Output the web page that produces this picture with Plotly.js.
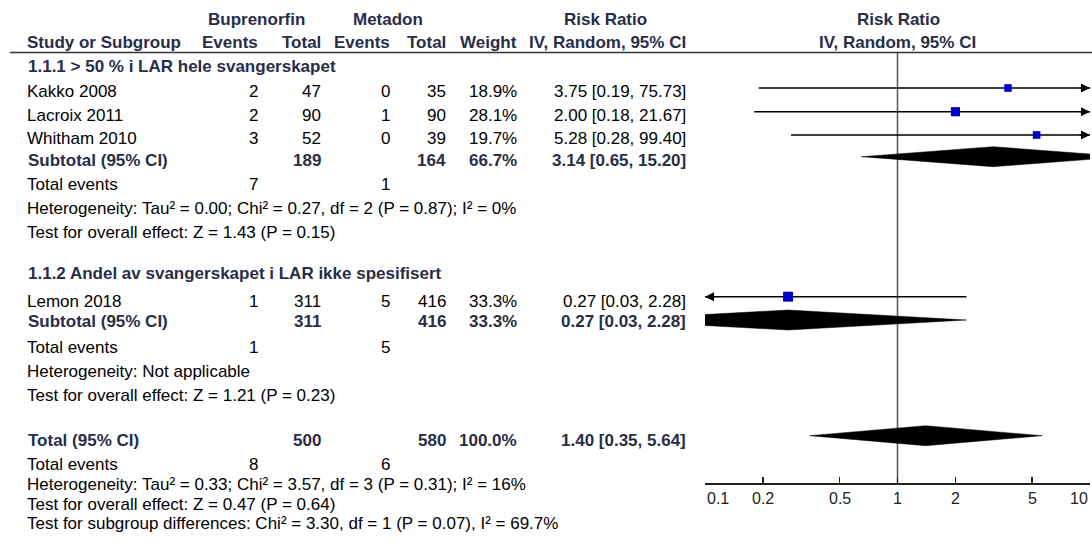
<!DOCTYPE html>
<html><head><meta charset="utf-8">
<script src="https://cdn.plot.ly/plotly-3.0.1.min.js"></script>
<style>html,body{margin:0;padding:0;background:#fff}#chart{width:1092px;height:545px}</style>
</head><body><div id="chart"></div>
<script>
// ---------------- DATA ----------------
const studies = ["Kakko 2008", "Lacroix 2011", "Whitham 2010", "Lemon 2018"];
const studyGroup = [0, 0, 0, 1];
const buprEvents = [2, 2, 3, 1];
const buprTotal = [47, 90, 52, 311];
const metEvents = [0, 1, 0, 5];
const metTotal = [35, 90, 39, 416];
const weights = [18.9, 28.1, 19.7, 33.3];
const rr = [3.75, 2.00, 5.28, 0.27];
const rrLow = [0.19, 0.18, 0.28, 0.03];
const rrHigh = [75.73, 21.67, 99.40, 2.28];

const subgroupNames = ["1.1.1 > 50 % i LAR hele svangerskapet", "1.1.2 Andel av svangerskapet i LAR ikke spesifisert"];
const subBuprTotal = [189, 311];
const subMetTotal = [164, 416];
const subWeight = [66.7, 33.3];
const subRR = [3.14, 0.27];
const subLow = [0.65, 0.03];
const subHigh = [15.20, 2.28];
const subBuprEvents = [7, 1];
const subMetEvents = [1, 5];
const subHet = ["Heterogeneity: Tau² = 0.00; Chi² = 0.27, df = 2 (P = 0.87); I² = 0%", "Heterogeneity: Not applicable"];
const subTest = ["Test for overall effect: Z = 1.43 (P = 0.15)", "Test for overall effect: Z = 1.21 (P = 0.23)"];

const totalBuprTotal = 500, totalMetTotal = 580, totalWeight = 100.0;
const totalRR = 1.40, totalLow = 0.35, totalHigh = 5.64;
const totalBuprEvents = 8, totalMetEvents = 6;
const totalHet = "Heterogeneity: Tau² = 0.33; Chi² = 3.57, df = 3 (P = 0.31); I² = 16%";
const totalTest = "Test for overall effect: Z = 0.47 (P = 0.64)";
const subgroupTest = "Test for subgroup differences: Chi² = 3.30, df = 1 (P = 0.07), I² = 69.7%";

const tickVals = [0.1, 0.2, 0.5, 1, 2, 5, 10];
const tickLabels = ["0.1", "0.2", "0.5", "1", "2", "5", "10"];

// ---------------- LAYOUT CONSTANTS ----------------
const W = 1092, H = 545;
const AX_Y = 483;            // pixel row of the x axis line
const X_MIN = 0.1, X_MAX = 10;
const PLOT_L = 705, PLOT_R = 1090;
const FONT = "Liberation Sans, Arial, sans-serif";
const FS = 17;
const HEAD_COL = "#282d48";
const TXT_COL = "#000000";
const col = {name: 25, bEv: 260, bTot: 323, mEv: 392, mTot: 448, wt: 519, ci: 688};

// text rows (pixel centers) and mark rows
const studyTextY = [90.8, 114.5, 137.5, 300.8];
const studyMarkY = [88, 111.7, 135, 296.7];
const groupHeadY = [65, 272.5];
const subTextY = [159.2, 320.8];
const subMarkY = [156.7, 320];
const subEvY = [184, 346.7];
const subHetY = [207.5, 370.2];
const subTestY = [231, 394.2];
const totY = 439.2, totMarkY = 435.7, totEvY = 463.8, totHetY = 483.2, totTestY = 503, subDiffY = 522.5;
const DIAMOND_H = 10;
const YOFF = 1.0;

const ann = [];
function txt(x, y, s, anchor, bold) {
  ann.push({
    xref: 'paper', yref: 'paper', x: x / W, y: 1 - (y + YOFF) / H,
    xanchor: anchor, yanchor: 'middle', showarrow: false,
    text: bold ? '<b>' + s + '</b>' : s,
    font: {family: FONT, size: FS, color: bold ? HEAD_COL : TXT_COL}
  });
}
const f2 = v => v.toFixed(2);
const ciText = (e, l, h) => f2(e) + ' [' + f2(l) + ', ' + f2(h) + ']';

// headers
txt(256, 18.8, 'Buprenorfin', 'center', true);
txt(388, 18.8, 'Metadon', 'center', true);
txt(605, 18.8, 'Risk Ratio', 'center', true);
txt(898, 18.8, 'Risk Ratio', 'center', true);
txt(col.name, 41.7, 'Study or Subgroup', 'left', true);
txt(col.bEv, 41.7, 'Events', 'right', true);
txt(col.bTot, 41.7, 'Total', 'right', true);
txt(col.mEv, 41.7, 'Events', 'right', true);
txt(col.mTot, 41.7, 'Total', 'right', true);
txt(col.wt, 41.7, 'Weight', 'right', true);
txt(col.ci, 41.7, 'IV, Random, 95% CI', 'right', true);
txt(897, 41.7, 'IV, Random, 95% CI', 'center', true);

// subgroups
for (let g = 0; g < subgroupNames.length; g++) {
  txt(col.name + 1, groupHeadY[g], subgroupNames[g], 'left', true);
  studies.forEach((s, i) => {
    if (studyGroup[i] !== g) return;
    const y = studyTextY[i];
    txt(col.name, y, s, 'left', false);
    txt(col.bEv, y, String(buprEvents[i]), 'right', false);
    txt(col.bTot, y, String(buprTotal[i]), 'right', false);
    txt(col.mEv, y, String(metEvents[i]), 'right', false);
    txt(col.mTot, y, String(metTotal[i]), 'right', false);
    txt(col.wt, y, weights[i].toFixed(1) + '%', 'right', false);
    txt(col.ci, y, ciText(rr[i], rrLow[i], rrHigh[i]), 'right', false);
  });
  txt(col.name + 1, subTextY[g], 'Subtotal (95% CI)', 'left', true);
  txt(col.bTot, subTextY[g], String(subBuprTotal[g]), 'right', true);
  txt(col.mTot, subTextY[g], String(subMetTotal[g]), 'right', true);
  txt(col.wt, subTextY[g], subWeight[g].toFixed(1) + '%', 'right', true);
  txt(col.ci, subTextY[g], ciText(subRR[g], subLow[g], subHigh[g]), 'right', true);
  txt(col.name, subEvY[g], 'Total events', 'left', false);
  txt(col.bEv, subEvY[g], String(subBuprEvents[g]), 'right', false);
  txt(col.mEv, subEvY[g], String(subMetEvents[g]), 'right', false);
  txt(col.name, subHetY[g], subHet[g], 'left', false);
  txt(col.name, subTestY[g], subTest[g], 'left', false);
}
// totals
txt(col.name + 1, totY, 'Total (95% CI)', 'left', true);
txt(col.bTot, totY, String(totalBuprTotal), 'right', true);
txt(col.mTot, totY, String(totalMetTotal), 'right', true);
txt(col.wt, totY, totalWeight.toFixed(1) + '%', 'right', true);
txt(col.ci, totY, ciText(totalRR, totalLow, totalHigh), 'right', true);
txt(col.name, totEvY, 'Total events', 'left', false);
txt(col.bEv, totEvY, String(totalBuprEvents), 'right', false);
txt(col.mEv, totEvY, String(totalMetEvents), 'right', false);
txt(col.name, totHetY, totalHet, 'left', false);
txt(col.name, totTestY, totalTest, 'left', false);
txt(col.name, subDiffY, subgroupTest, 'left', false);

// tick labels under axis
tickVals.forEach((v, i) => {
  ann.push({
    xref: 'x', yref: 'paper', x: Math.log10(v), y: 1 - 498.5 / H,
    xanchor: i === 0 ? 'left' : (i === tickVals.length - 1 ? 'right' : 'center'),
    yanchor: 'middle', showarrow: false, text: tickLabels[i],
    font: {family: FONT, size: 16, color: '#222'}
  });
});

// ---------------- TRACES ----------------
const traces = [];
const ciX = [], ciY = [];
studies.forEach((s, i) => {
  ciX.push(Math.max(rrLow[i], X_MIN), Math.min(rrHigh[i], X_MAX), null);
  ciY.push(studyMarkY[i], studyMarkY[i], null);
  if (rrHigh[i] > X_MAX) {
    ann.push({xref: 'x', yref: 'y', x: Math.log10(X_MAX), y: studyMarkY[i], ax: -12, ay: 0,
      showarrow: true, arrowhead: 2, arrowsize: 1.2, arrowwidth: 1.5, arrowcolor: '#000', text: ''});
  }
  if (rrLow[i] < X_MIN) {
    ann.push({xref: 'x', yref: 'y', x: Math.log10(X_MIN), y: studyMarkY[i], ax: 12, ay: 0,
      showarrow: true, arrowhead: 2, arrowsize: 1.2, arrowwidth: 1.5, arrowcolor: '#000', text: ''});
  }
});
traces.push({type: 'scatter', mode: 'lines', x: ciX, y: ciY, line: {color: '#000', width: 1.5},
  hoverinfo: 'skip', cliponaxis: false});
traces.push({type: 'scatter', mode: 'markers', x: rr, y: studyMarkY,
  marker: {symbol: 'square', color: '#0000cc', opacity: 1, size: weights.map(w => 1.72 * Math.sqrt(w)),
    line: {width: 0}}, hoverinfo: 'skip'});

function diamond(lo, est, hi, yc) {
  const L = Math.log10, a = L(lo), m = L(est), b = L(hi), mn = L(X_MIN), mx = L(X_MAX);
  const h = DIAMOND_H, px = [], py = [];
  if (a < mn) { const f = (mn - a) / (m - a); px.push(mn, mn); py.push(yc + h * f, yc - h * f); }
  else { px.push(a); py.push(yc); }
  px.push(m); py.push(yc - h);
  if (b > mx) { const f = (b - mx) / (b - m); px.push(mx, mx); py.push(yc - h * f, yc + h * f); }
  else { px.push(b); py.push(yc); }
  px.push(m); py.push(yc + h);
  px.push(px[0]); py.push(py[0]);
  return {type: 'scatter', mode: 'lines', x: px.map(v => Math.pow(10, v)), y: py,
    fill: 'toself', fillcolor: '#000', line: {color: '#000', width: 0.5}, hoverinfo: 'skip'};
}
for (let g = 0; g < subRR.length; g++) traces.push(diamond(subLow[g], subRR[g], subHigh[g], subMarkY[g]));
traces.push(diamond(totalLow, totalRR, totalHigh, totMarkY));

const layout = {
  width: W, height: H, margin: {l: 0, r: 0, t: 0, b: 0},
  paper_bgcolor: '#fff', plot_bgcolor: 'rgba(0,0,0,0)', showlegend: false,
  xaxis: {type: 'log', range: [Math.log10(X_MIN), Math.log10(X_MAX)], domain: [PLOT_L / W, PLOT_R / W],
    showline: true, linecolor: '#222', linewidth: 1.5, ticks: 'inside', ticklen: 6, tickwidth: 1.5,
    tickcolor: '#222', tickmode: 'array', tickvals: tickVals, showticklabels: false,
    showgrid: false, zeroline: false, fixedrange: true},
  yaxis: {range: [AX_Y, 0], domain: [1 - AX_Y / H, 1], visible: false, fixedrange: true},
  shapes: [
    {type: 'line', xref: 'paper', yref: 'paper', x0: 10 / W, x1: 1, y0: 1 - 52.5 / H, y1: 1 - 52.5 / H,
      line: {color: '#333', width: 1.5}},
    {type: 'line', xref: 'x', yref: 'y', x0: 1, x1: 1, y0: 53, y1: AX_Y,
      line: {color: '#555', width: 1.5}, layer: 'below'}
  ],
  annotations: ann
};
Plotly.newPlot('chart', traces, layout, {staticPlot: true, displayModeBar: false});
</script>
</body></html>
